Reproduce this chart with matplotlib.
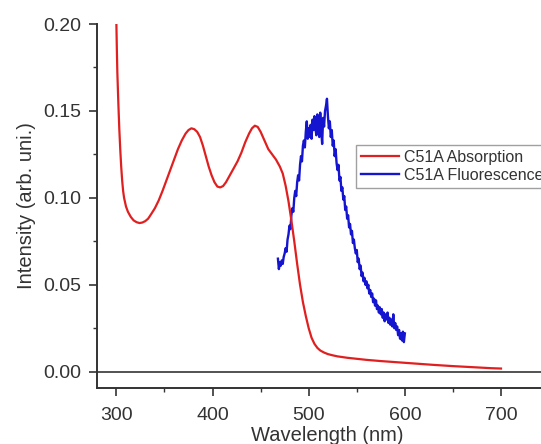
import numpy as np
import matplotlib
matplotlib.use('Agg')
import matplotlib.pyplot as plt
from matplotlib.ticker import MultipleLocator

plt.rcParams['font.family'] = ['Liberation Sans', 'DejaVu Sans']

# absorption spectrum
abs_wl = [300, 300.5, 301, 302, 303, 304, 305, 306, 307, 308, 310, 312, 315, 318,
          321, 324, 327, 330, 333, 336, 340, 344, 348, 352, 356, 360, 364, 368,
          372, 375, 378, 381, 384, 387, 390, 393, 396, 399, 402, 405, 408, 411,
          414, 418, 422, 426, 430, 434, 438, 441, 444, 447, 450, 454, 458, 462,
          466, 470, 473, 476, 479, 482, 485, 488, 491, 494, 497, 500, 503, 506,
          509, 512, 516, 520, 525, 530, 540, 550, 560, 575, 590, 610, 630, 650,
          670, 690, 700]
abs_int = [0.200, 0.185, 0.172, 0.155, 0.140, 0.128, 0.118, 0.110, 0.104, 0.100,
           0.095, 0.092, 0.089, 0.087, 0.086, 0.0855, 0.0858, 0.0866, 0.088,
           0.0905, 0.094, 0.0985, 0.104, 0.110, 0.116, 0.122, 0.128, 0.133,
           0.137, 0.139, 0.140, 0.1395, 0.138, 0.135, 0.130, 0.124, 0.118, 0.113,
           0.109, 0.1065, 0.106, 0.1068, 0.109, 0.113, 0.117, 0.121, 0.126,
           0.132, 0.137, 0.140, 0.1415, 0.1408, 0.138, 0.133, 0.128, 0.125,
           0.122, 0.118, 0.114, 0.107, 0.098, 0.087, 0.075, 0.062, 0.050, 0.040,
           0.032, 0.025, 0.0195, 0.0160, 0.0137, 0.0122, 0.0110, 0.0101, 0.0094,
           0.0088, 0.0080, 0.0074, 0.0068, 0.0061, 0.0055, 0.0047, 0.0039,
           0.0032, 0.0026, 0.0020, 0.0018]

# fluorescence spectrum, 468-600 nm in 1 nm steps
fl_wl = np.arange(468, 601)
fl_int = [0.065, 0.059, 0.063, 0.061, 0.064, 0.062, 0.066, 0.068, 0.071, 0.069,
          0.076, 0.079, 0.084, 0.082, 0.090, 0.094, 0.092, 0.100, 0.104, 0.101,
          0.109, 0.113, 0.110, 0.119, 0.124, 0.121, 0.130, 0.133, 0.129, 0.138,
          0.144, 0.134, 0.140, 0.135, 0.142, 0.134, 0.145, 0.139, 0.147, 0.140,
          0.136, 0.148, 0.143, 0.135, 0.149, 0.139, 0.131, 0.146, 0.141, 0.150,
          0.153, 0.157, 0.147, 0.140, 0.144, 0.135, 0.139, 0.130, 0.133, 0.124,
          0.128, 0.120, 0.116, 0.119, 0.110, 0.112, 0.104, 0.106, 0.099, 0.101,
          0.093, 0.095, 0.088, 0.090, 0.083, 0.085, 0.079, 0.081, 0.074, 0.076,
          0.071, 0.068, 0.070, 0.063, 0.065, 0.059, 0.061, 0.055, 0.057, 0.052,
          0.054, 0.050, 0.052, 0.048, 0.050, 0.045, 0.047, 0.043, 0.045, 0.040,
          0.042, 0.038, 0.041, 0.036, 0.038, 0.034, 0.037, 0.033, 0.036, 0.031,
          0.034, 0.029, 0.033, 0.030, 0.034, 0.028, 0.031, 0.027, 0.030, 0.026,
          0.033, 0.025, 0.028, 0.024, 0.026, 0.021, 0.024, 0.019, 0.022, 0.018,
          0.023, 0.017, 0.022]

labels = ['C51A Absorption', 'C51A Fluorescence']

fig = plt.figure(figsize=(5.41, 4.44), dpi=100)
# axes run past the right edge, like the cropped original
ax = fig.add_axes([0.1787, 0.1261, 0.854, 0.8198])

ax.axhline(0, color='#444444', lw=1.3, zorder=1)
ax.plot(abs_wl, abs_int, color='#e02020', lw=1.6, label=labels[0], zorder=3)
ax.plot(fl_wl, fl_int, color='#1515d0', lw=1.7, label=labels[1], zorder=2)

ax.set_xlim(279.5, 760)
ax.set_ylim(-0.0094, 0.20)
ax.xaxis.set_major_locator(MultipleLocator(100))
ax.xaxis.set_minor_locator(MultipleLocator(50))
ax.yaxis.set_major_locator(MultipleLocator(0.05))
ax.yaxis.set_minor_locator(MultipleLocator(0.025))
ax.yaxis.set_major_formatter(plt.FormatStrFormatter('%.2f'))

for s in ['top', 'right']:
    ax.spines[s].set_visible(False)
for s in ['left', 'bottom']:
    ax.spines[s].set_color('#333333')
    ax.spines[s].set_linewidth(1.4)

ax.tick_params(which='major', direction='out', length=6, width=1.2,
               color='#333333', labelsize=14, labelcolor='#333333')
ax.tick_params(which='minor', direction='out', length=3, width=1.0, color='#333333')
ax.tick_params(axis='x', which='major', pad=8)
ax.tick_params(axis='y', which='major', pad=5)

ax.set_xlabel('Wavelength (nm)', fontsize=14.5, color='#333333', labelpad=1)
ax.set_ylabel('Intensity (arb. uni.)', fontsize=14.5, color='#333333', labelpad=5)

leg = ax.legend(loc='upper left', bbox_to_anchor=(356 / 541, 1 - 145 / 444),
                bbox_transform=fig.transFigure, fontsize=11.5, frameon=True,
                fancybox=False, borderpad=0.3, labelspacing=0.2,
                handlelength=2.4, handletextpad=0.3, borderaxespad=0)
leg.get_frame().set_edgecolor('#888888')
leg.get_frame().set_linewidth(1.0)
for t in leg.get_texts():
    t.set_color('#333333')

fig.savefig('out.png', dpi=100)
